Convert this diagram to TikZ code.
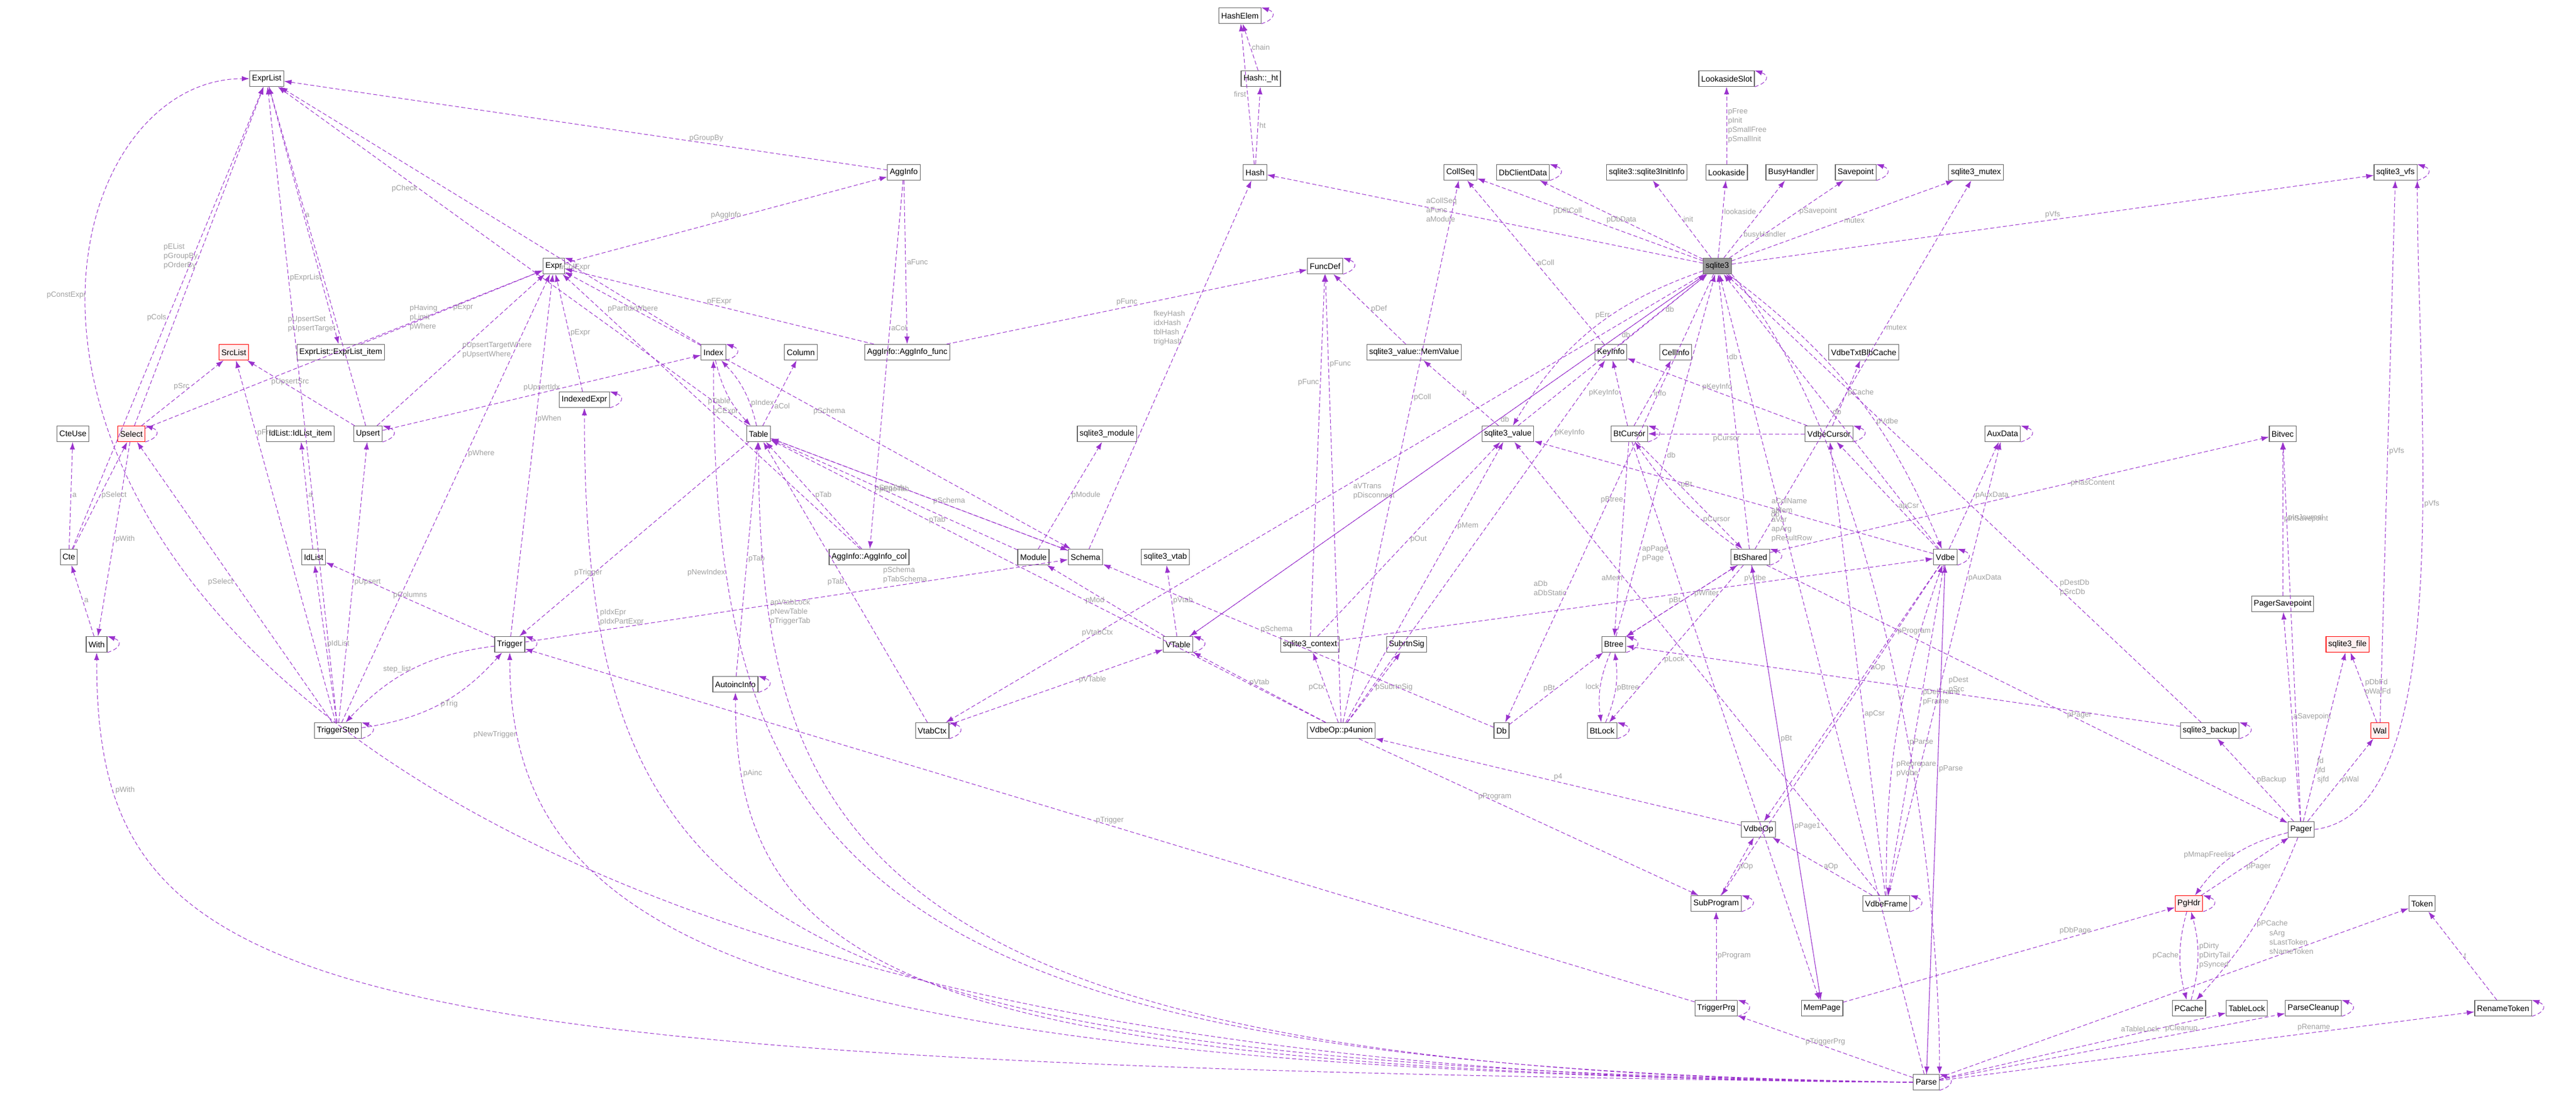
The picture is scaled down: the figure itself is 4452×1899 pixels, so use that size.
\documentclass[tikz,border=0pt]{standalone}
\usepackage{fontspec}
\setmainfont{Liberation Sans}
\usetikzlibrary{arrows.meta}
\definecolor{edgecol}{RGB}{154,50,205}
\definecolor{lblcol}{RGB}{160,160,160}
\definecolor{redfill}{RGB}{255,240,240}
\tikzset{
  box/.style={draw=black!60,line width=1.2pt,fill=white,inner sep=4pt,minimum height=27pt,font=\fontsize{14}{16}\selectfont},
  redbox/.style={box,draw=red,fill=redfill},
  mainbox/.style={box,fill=black!40},
  edge/.style={draw=edgecol,dash pattern=on 7pt off 4pt,line width=1pt,-{Latex[length=13pt,width=9pt]}},
  lbl/.style={text=lblcol,font=\fontsize{13}{16}\selectfont,inner sep=2pt,align=left},
  selfloop/.style={edge,to path={(\tikztostart.south east) .. controls +(25,-8) and +(25,8) .. (\tikztotarget.north east)}}
}
\begin{document}
\begin{tikzpicture}[x=1pt,y=-1pt]
\useasboundingbox (0,0) rectangle (4452,1899);
% nodes, top to bottom
\node[box] (HashElem) at (2143,27) {HashElem};
\node[box] (HashHt) at (2179,136) {Hash::\_ht};
\node[box] (ExprList) at (461,136) {ExprList};
\node[box] (LookasideSlot) at (2984,136) {LookasideSlot};
\node[box] (AggInfo) at (1562,298) {AggInfo};
\node[box] (Hash) at (2169,298) {Hash};
\node[box] (CollSeq) at (2524,298) {CollSeq};
\node[box] (DbClientData) at (2632,298) {DbClientData};
\node[box] (InitInfo) at (2846,298) {sqlite3::sqlite3InitInfo};
\node[box] (Lookaside) at (2984,298) {Lookaside};
\node[box] (BusyHandler) at (3096,298) {BusyHandler};
\node[box] (Savepoint) at (3207,298) {Savepoint};
\node[box] (Mutex) at (3415,298) {sqlite3\_mutex};
\node[box] (Vfs) at (4140,298) {sqlite3\_vfs};
\node[box] (Expr) at (957,460) {Expr};
\node[box] (FuncDef) at (2290,460) {FuncDef};
\node[mainbox] (Sqlite3) at (2968,460) {sqlite3};
\node[box] (ExprListItem) at (589,609) {ExprList::ExprList\_item};
\node[redbox] (SrcList) at (404,609) {SrcList};
\node[box] (IndexedExpr) at (1010,691) {IndexedExpr};
\node[box] (Index) at (1233,609) {Index};
\node[box] (Column) at (1384,609) {Column};
\node[box] (AggFunc) at (1568,609) {AggInfo::AggInfo\_func};
\node[box] (MemValue) at (2444,609) {sqlite3\_value::MemValue};
\node[box] (KeyInfo) at (2784,609) {KeyInfo};
\node[box] (CellInfo) at (2896,609) {CellInfo};
\node[box] (TxtBlbCache) at (3221,609) {VdbeTxtBlbCache};
\node[box] (CteUse) at (126,750) {CteUse};
\node[redbox] (Select) at (227,750) {Select};
\node[box] (IdListItem) at (519,750) {IdList::IdList\_item};
\node[box] (Upsert) at (636,750) {Upsert};
\node[box] (Table) at (1311,750) {Table};
\node[box] (VModule) at (1913,750) {sqlite3\_module};
\node[box] (Value) at (2606,750) {sqlite3\_value};
\node[box] (BtCursor) at (2816,750) {BtCursor};
\node[box] (VdbeCursor) at (3161,750) {VdbeCursor};
\node[box] (AuxData) at (3461,750) {AuxData};
\node[box] (Bitvec) at (3945,750) {Bitvec};
\node[box] (Cte) at (119,963) {Cte};
\node[box] (IdList) at (542,963) {IdList};
\node[box] (AggCol) at (1502,963) {AggInfo::AggInfo\_col};
\node[box] (Module) at (1786,963) {Module};
\node[box] (Schema) at (1876,963) {Schema};
\node[box] (Vtab) at (2014,963) {sqlite3\_vtab};
\node[box] (BtShared) at (3025,963) {BtShared};
\node[box] (Vdbe) at (3362,963) {Vdbe};
\node[box] (PagerSavepoint) at (3945,1044) {PagerSavepoint};
\node[box] (With) at (167,1114) {With};
\node[box] (Trigger) at (881,1114) {Trigger};
\node[box] (VTable) at (2036,1114) {VTable};
\node[box] (Context) at (2264,1114) {sqlite3\_context};
\node[box] (SubrtnSig) at (2431,1114) {SubrtnSig};
\node[box] (Btree) at (2789,1114) {Btree};
\node[redbox] (File) at (4057,1114) {sqlite3\_file};
\node[box] (AutoincInfo) at (1271,1183) {AutoincInfo};
\node[box] (TriggerStep) at (584,1263) {TriggerStep};
\node[box] (VtabCtx) at (1611,1263) {VtabCtx};
\node[box] (P4union) at (2318,1263) {VdbeOp::p4union};
\node[box] (Db) at (2595,1263) {Db};
\node[box] (BtLock) at (2769,1263) {BtLock};
\node[box] (Backup) at (3819,1263) {sqlite3\_backup};
\node[redbox] (Wal) at (4113,1263) {Wal};
\node[box] (VdbeOp) at (3039,1434) {VdbeOp};
\node[box] (Pager) at (3977,1434) {Pager};
\node[box] (SubProgram) at (2966,1562) {SubProgram};
\node[box] (VdbeFrame) at (3260,1562) {VdbeFrame};
\node[redbox] (PgHdr) at (3783,1562) {PgHdr};
\node[box] (Token) at (4186,1562) {Token};
\node[box] (TriggerPrg) at (2966,1743) {TriggerPrg};
\node[box] (MemPage) at (3149,1743) {MemPage};
\node[box] (PCache) at (3783,1743) {PCache};
\node[box] (TableLock) at (3883,1743) {TableLock};
\node[box] (ParseCleanup) at (3998,1743) {ParseCleanup};
\node[box] (RenameToken) at (4326,1743) {RenameToken};
\node[box] (Parse) at (3329,1871) {Parse};

% self references
\foreach \n/\l in {HashElem/{next\\prev},LookasideSlot/pNext,DbClientData/pNext,Savepoint/pNext,Vfs/pNext,
  Expr/{pLeft\\pRight},FuncDef/pNext,IndexedExpr/pIENext,Index/pNext,Select/{pNext\\pPrior},Upsert/pNextUpsert,
  BtCursor/pNext,VdbeCursor/pAltCursor,AuxData/pNextAux,BtShared/pNext,Vdbe/{pVNext\\ppVPrev},With/pOuter,
  Trigger/pNext,VTable/pNext,Btree/{pNext\\pPrev},AutoincInfo/pNext,TriggerStep/{pLast\\pNext},VtabCtx/pPrior,
  BtLock/pNext,Backup/pNext,SubProgram/pNext,VdbeFrame/pParent,PgHdr/{pDirty\\pDirtyNext\\pDirtyPrev},
  TriggerPrg/pNext,ParseCleanup/pNext,RenameToken/pNext,Parse/{pOuterParse\\pToplevel}}
  \draw[selfloop] (\n) to node[lbl,right,xshift=18pt]{\l} (\n);

% top region
\draw[edge] (Hash) -- node[lbl,left]{first} (HashElem);
\draw[edge] (Hash) -- node[lbl,right]{ht} (HashHt);
\draw[edge] (HashHt) -- node[lbl,right]{chain} (HashElem);
\draw[edge] (Lookaside) -- node[lbl,right]{pFree\\pInit\\pSmallFree\\pSmallInit} (LookasideSlot);
\draw[edge] (Sqlite3) -- node[lbl,pos=0.6]{aCollSeq\\aFunc\\aModule} (Hash);
\draw[edge] (Sqlite3) -- node[lbl,pos=0.6]{pDfltColl} (CollSeq);
\draw[edge] (Sqlite3) -- node[lbl,pos=0.5]{pDbData} (DbClientData);
\draw[edge] (Sqlite3) -- node[lbl,pos=0.5,right]{init} (InitInfo);
\draw[edge] (Sqlite3) -- node[lbl,right,pos=0.6]{lookaside} (Lookaside);
\draw[edge] (Sqlite3) -- node[lbl,right,pos=0.3]{busyHandler} (BusyHandler);
\draw[edge] (Sqlite3) -- node[lbl,right,pos=0.6]{pSavepoint} (Savepoint);
\draw[edge] (Sqlite3) -- node[lbl,right]{mutex} (Mutex);
\draw[edge] (Sqlite3) -- node[lbl,above]{pVfs} (Vfs);
\draw[edge] (ExprList) -- node[lbl,right]{a} (ExprListItem);
\draw[edge] (ExprListItem) -- node[lbl,right]{pExpr} (Expr);
\draw[edge] (AggInfo) -- node[lbl,above,pos=0.3]{pGroupBy} (ExprList);
\draw[edge] (Expr) -- node[lbl,above]{pAggInfo} (AggInfo);
\draw[edge] (AggInfo) -- node[lbl,right]{aFunc} (AggFunc);
\draw[edge] (AggInfo) -- node[lbl,right,pos=0.4]{aCol} (AggCol);
\draw[edge] (AggFunc) -- node[lbl,above]{pFExpr} (Expr);
\draw[edge] (AggFunc) -- node[lbl,above]{pFunc} (FuncDef);
\draw[edge] (AggCol) -- node[lbl,right]{pCExpr} (Expr);
\draw[edge] (AggCol) -- node[lbl,right]{pTab} (Table);
% left region
\draw[edge] (Select) -- node[lbl,left,pos=0.5]{pEList\\pGroupBy\\pOrderBy} (ExprList);
\draw[edge] (Select) -- node[lbl,pos=0.7]{pHaving\\pLimit\\pWhere} (Expr);
\draw[edge] (Select) -- node[lbl,left,pos=0.6]{pSrc} (SrcList);
\draw[edge] (Select) -- node[lbl,right]{pWith} (With);
\draw[edge] (Cte) -- node[lbl,right]{a} (CteUse);
\draw[edge] (Cte) -- node[lbl,left]{pCols} (ExprList);
\draw[edge] (Cte) -- node[lbl,right]{pSelect} (Select);
\draw[edge] (With) -- node[lbl,right]{a} (Cte);
\draw[edge] (Upsert) -- node[lbl,left,pos=0.3]{pUpsertSet\\pUpsertTarget} (ExprList);
\draw[edge] (Upsert) -- node[lbl,right]{pUpsertTargetWhere\\pUpsertWhere} (Expr);
\draw[edge] (Upsert) -- node[lbl,above,pos=0.6]{pUpsertSrc} (SrcList);
\draw[edge] (Upsert) -- node[lbl,above]{pUpsertIdx} (Index);
\draw[edge] (IndexedExpr) -- node[lbl,right]{pExpr} (Expr);
\draw[edge] (IdList) -- node[lbl,right]{a} (IdListItem);
\draw[edge] (TriggerStep) -- node[lbl,right,pos=0.7]{pExprList} (ExprList);
\draw[edge] (TriggerStep) -- node[lbl,left]{pSelect} (Select);
\draw[edge] (TriggerStep) -- node[lbl,right,pos=0.8]{pFrom} (SrcList);
\draw[edge] (TriggerStep) -- node[lbl,right]{pIdList} (IdList);
\draw[edge] (TriggerStep) -- node[lbl,right]{pUpsert} (Upsert);
\draw[edge] (TriggerStep) -- node[lbl,right,pos=0.6]{pWhere} (Expr);
\draw[edge] (TriggerStep) to[bend right=20] node[lbl,right]{pTrig} (Trigger);
\draw[edge] (Trigger) to[bend right=20] node[lbl,left]{step\_list} (TriggerStep);
\draw[edge] (Trigger) -- node[lbl,above]{pColumns} (IdList);
\draw[edge] (Trigger) -- node[lbl,right,pos=0.6]{pWhen} (Expr);
\draw[edge] (Trigger) -- node[lbl,above,pos=0.7]{pSchema\\pTabSchema} (Schema);
% Table / Index region
\draw[edge] (Index) -- node[lbl]{pPartIdxWhere} (Expr);
\draw[edge] (Index) -- node[lbl,pos=0.3]{aColExpr} (ExprList);
\draw[edge] (Index) to[bend right=15] node[lbl,left,pos=0.6]{pTable} (Table);
\draw[edge] (Table) to[bend right=15] node[lbl,right,pos=0.3]{pIndex} (Index);
\draw[edge] (Index) -- node[lbl,above,pos=0.3]{pSchema} (Schema);
\draw[edge] (Table) -- node[lbl,right,pos=0.3]{aCol} (Column);
\draw[edge] (Table) -- node[lbl,left,pos=0.7]{pCheck} (ExprList);
\draw[edge] (Table) -- node[lbl,above,pos=0.7]{pTrigger} (Trigger);
\draw[edge] (Table) -- node[lbl,above,pos=0.6]{pSchema} (Schema);
\draw[edge] (Schema) -- node[lbl,left,pos=0.6]{fkeyHash\\idxHash\\tblHash\\trigHash} (Hash);
\draw[edge] (Schema) -- node[lbl,below,pos=0.6]{pSeqTab} (Table);
\draw[edge] (AutoincInfo) -- node[lbl,right]{pTab} (Table);
\draw[edge] (Module) -- node[lbl,right]{pModule} (VModule);
\draw[edge] (Module) -- node[lbl,above]{pEpoTab} (Table);
\draw[edge] (VTable) -- node[lbl,left]{pMod} (Module);
\draw[edge] (VTable) -- node[lbl,right]{pVtab} (Vtab);
\draw[edge] (VTable) -- node[lbl,right,pos=0.6]{db} (Sqlite3);
\draw[edge] (VtabCtx) -- node[lbl,right,pos=0.6]{pVTable} (VTable);
\draw[edge] (VtabCtx) -- node[lbl,left]{pTab} (Table);
\draw[edge] (Sqlite3) -- node[lbl,pos=0.8]{pVtabCtx} (VtabCtx);
\draw[edge] (Sqlite3) -- node[lbl,left,pos=0.6]{aVTrans\\pDisconnect} (VTable);
% sqlite3 region
\draw[edge] (MemValue) -- node[lbl,right]{pDef} (FuncDef);
\draw[edge] (Value) -- node[lbl,right]{u} (MemValue);
\draw[edge] (Value) -- node[lbl,left,pos=0.6]{db} (Sqlite3);
\draw[edge] (Sqlite3) to[bend right=20] node[lbl,left,pos=0.4]{pErr} (Value);
\draw[edge] (KeyInfo) -- node[lbl,right]{aColl} (CollSeq);
\draw[edge] (KeyInfo) -- node[lbl,right]{db} (Sqlite3);
\draw[edge] (BtCursor) -- node[lbl,left]{pKeyInfo} (KeyInfo);
\draw[edge] (BtCursor) -- node[lbl,right]{info} (CellInfo);
\draw[edge] (BtCursor) -- node[lbl,left,pos=0.3]{pBtree} (Btree);
\draw[edge] (BtCursor) -- node[lbl,right,pos=0.4]{pBt} (BtShared);
\draw[edge] (BtCursor) -- node[lbl,left,pos=0.2]{apPage\\pPage} (MemPage);
\draw[edge] (VdbeCursor) -- node[lbl,right]{pCache} (TxtBlbCache);
\draw[edge] (VdbeCursor) -- node[lbl,above]{pKeyInfo} (KeyInfo);
\draw[edge] (VdbeCursor) -- node[lbl,below]{pCursor} (BtCursor);
\draw[edge] (Context) -- node[lbl,left,pos=0.7]{pFunc} (FuncDef);
\draw[edge] (Context) -- node[lbl,right]{pOut} (Value);
\draw[edge] (Context) -- node[lbl,above,pos=0.7]{pVdbe} (Vdbe);
\draw[edge] (P4union) -- node[lbl,left]{pCtx} (Context);
\draw[edge] (P4union) -- node[lbl,right]{pSubrtnSig} (SubrtnSig);
\draw[edge] (P4union) -- node[lbl,right,pos=0.8]{pFunc} (FuncDef);
\draw[edge] (P4union) -- node[lbl,right,pos=0.6]{pColl} (CollSeq);
\draw[edge] (P4union) -- node[lbl,right,pos=0.8]{pKeyInfo} (KeyInfo);
\draw[edge] (P4union) -- node[lbl,right,pos=0.7]{pMem} (Value);
\draw[edge] (P4union) -- node[lbl,above]{pVtab} (VTable);
\draw[edge] (P4union) -- node[lbl,above,pos=0.7]{pTab} (Table);
\draw[edge] (P4union) -- node[lbl,above,pos=0.4]{pProgram} (SubProgram);
\draw[edge] (Sqlite3) -- node[lbl,left,pos=0.7]{aDb\\aDbStatic} (Db);
\draw[edge] (Db) -- node[lbl,left]{pBt} (Btree);
\draw[edge] (Db) -- node[lbl,right,pos=0.6]{pSchema} (Schema);
% btree region
\draw[edge] (Btree) -- node[lbl,left]{pBt} (BtShared);
\draw[edge] (BtShared) -- node[lbl,right,pos=0.4]{pWriter} (Btree);
\draw[edge] (Btree) -- node[lbl,right]{db} (Sqlite3);
\draw[edge] (Btree) to[bend right=15] node[lbl,left]{lock} (BtLock);
\draw[edge] (BtLock) to[bend right=15] node[lbl,right]{pBtree} (Btree);
\draw[edge] (BtShared) -- node[lbl,right,pos=0.6]{pLock} (BtLock);
\draw[edge] (BtShared) -- node[lbl,right,pos=0.7]{db} (Sqlite3);
\draw[edge] (BtShared) to[bend left=10] node[lbl,right,pos=0.3]{pCursor} (BtCursor);
\draw[edge] (BtShared) -- node[lbl,right,pos=0.6]{pPage1} (MemPage);
\draw[edge] (BtShared) -- node[lbl,above,pos=0.6]{pPager} (Pager);
\draw[edge] (BtShared) -- node[lbl,right,pos=0.6]{pHasContent} (Bitvec);
\draw[edge] (BtShared) -- node[lbl,right,pos=0.6]{mutex} (Mutex);
\draw[edge] (MemPage) -- node[lbl,right,pos=0.6]{pBt} (BtShared);
\draw[edge] (MemPage) -- node[lbl,above,pos=0.7]{pDbPage} (PgHdr);
% vdbe region
\draw[edge] (Vdbe) -- node[lbl,right]{db} (Sqlite3);
\draw[edge] (Sqlite3) to[bend left=15] node[lbl,right,pos=0.6]{pVdbe} (Vdbe);
\draw[edge] (Vdbe) -- node[lbl,left,pos=0.3]{aColName\\aMem\\aVar\\apArg\\pResultRow} (Value);
\draw[edge] (Vdbe) -- node[lbl,right,pos=0.4]{apCsr} (VdbeCursor);
\draw[edge] (Vdbe) -- node[lbl,right]{pAuxData} (AuxData);
\draw[edge] (Vdbe) -- node[lbl,right,pos=0.4]{aOp} (VdbeOp);
\draw[edge] (Vdbe) -- node[lbl,right,pos=0.4]{pDelFrame\\pFrame} (VdbeFrame);
\draw[edge] (Vdbe) -- node[lbl,right,pos=0.2]{pProgram} (SubProgram);
\draw[edge] (Vdbe) -- node[lbl,right,pos=0.4]{pParse} (Parse);
\draw[edge] (VdbeFrame) to[bend left=10] node[lbl,left,pos=0.6]{v} (Vdbe);
\draw[edge] (VdbeFrame) -- node[lbl,right]{aOp} (VdbeOp);
\draw[edge] (VdbeFrame) -- node[lbl,right,pos=0.4]{apCsr} (VdbeCursor);
\draw[edge] (VdbeFrame) -- node[lbl,right,pos=0.7]{pAuxData} (AuxData);
\draw[edge] (VdbeFrame) -- node[lbl,left,pos=0.7]{aMem} (Value);
\draw[edge] (VdbeOp) -- node[lbl,above]{p4} (P4union);
\draw[edge] (SubProgram) -- node[lbl,right]{aOp} (VdbeOp);
\draw[edge] (TriggerPrg) -- node[lbl,right]{pProgram} (SubProgram);
\draw[edge] (TriggerPrg) -- node[lbl,above]{pTrigger} (Trigger);
% pager region
\draw[edge] (Pager) -- node[lbl,right]{aSavepoint} (PagerSavepoint);
\draw[edge] (PagerSavepoint) -- node[lbl,right]{pInSavepoint} (Bitvec);
\draw[edge] (Pager) -- node[lbl,right,pos=0.8]{pInJournal} (Bitvec);
\draw[edge] (Pager) -- node[lbl,right,pos=0.3]{fd\\jfd\\sjfd} (File);
\draw[edge] (Pager) -- node[lbl,right]{pWal} (Wal);
\draw[edge] (Wal) -- node[lbl,right]{pDbFd\\pWalFd} (File);
\draw[edge] (Wal) -- node[lbl,right,pos=0.5]{pVfs} (Vfs);
\draw[edge] (Pager.east) .. controls +(250,-30) and +(0,400) .. node[lbl,right,pos=0.6]{pVfs} (Vfs.south east);
\draw[edge] (Pager) -- node[lbl,right]{pBackup} (Backup);
\draw[edge] (Backup) -- node[lbl,right,pos=0.3]{pDestDb\\pSrcDb} (Sqlite3);
\draw[edge] (Backup) -- node[lbl,above,pos=0.4]{pDest\\pSrc} (Btree);
\draw[edge] (Pager) to[bend right=20] node[lbl,left]{pMmapFreelist} (PgHdr);
\draw[edge] (PgHdr) -- node[lbl,right]{pPager} (Pager);
\draw[edge] (PgHdr) to[bend right=15] node[lbl,left]{pCache} (PCache);
\draw[edge] (PCache) to[bend right=15] node[lbl,right]{pDirty\\pDirtyTail\\pSynced} (PgHdr);
\draw[edge] (Pager) to[bend left=10] node[lbl,right]{pPCache} (PCache);
\draw[edge] (RenameToken) -- node[lbl,right]{t} (Token);
% Parse
\draw[edge] (Parse) -- node[lbl,left,pos=0.7]{db} (Sqlite3);
\draw[edge] (Sqlite3.south east) .. controls +(250,300) and +(0,-400) .. node[lbl,right,pos=0.6]{pParse} (Parse.north east);
\draw[edge] (Parse) -- node[lbl,left,pos=0.6]{pReprepare\\pVdbe} (Vdbe);
\draw[edge] (Parse) -- node[lbl,above,pos=0.7]{aTableLock} (TableLock);
\draw[edge] (Parse) -- node[lbl,above,pos=0.7]{pCleanup} (ParseCleanup);
\draw[edge] (Parse) -- node[lbl,above,pos=0.7]{pRename} (RenameToken);
\draw[edge] (Parse) -- node[lbl,left,pos=0.8]{sArg\\sLastToken\\sNameToken} (Token);
\draw[edge] (Parse) -- node[lbl,above]{pTriggerPrg} (TriggerPrg);
\draw[edge] (Parse.west) .. controls +(-2000,-20) and +(0,500) .. node[lbl,left,pos=0.9]{pNewTrigger} (Trigger.south);
\draw[edge] (Parse.west) .. controls +(-1700,-20) and +(0,500) .. node[lbl,right,pos=0.9]{pAinc} (AutoincInfo.south);
\draw[edge] (Parse.west) .. controls +(-1800,-20) and +(0,700) .. node[lbl,right,pos=0.85]{apVtabLock\\pNewTable\\pTriggerTab} (Table.south);
\draw[edge] (Parse.west) .. controls +(-1800,-30) and +(0,900) .. node[lbl,left,pos=0.85]{pNewIndex} (Index.south);
\draw[edge] (Parse.west) .. controls +(-2000,-30) and +(0,900) .. node[lbl,right,pos=0.85]{pIdxEpr\\pIdxPartExpr} (IndexedExpr.south);
\draw[edge] (Parse.west) .. controls +(-2800,-30) and +(0,600) .. node[lbl,right,pos=0.85]{pWith} (With.south);
\draw[edge] (Parse.west) .. controls +(-3600,0) and +(-500,0) .. node[lbl,left,pos=0.7]{pConstExpr} (ExprList.west);
\end{tikzpicture}
\end{document}
